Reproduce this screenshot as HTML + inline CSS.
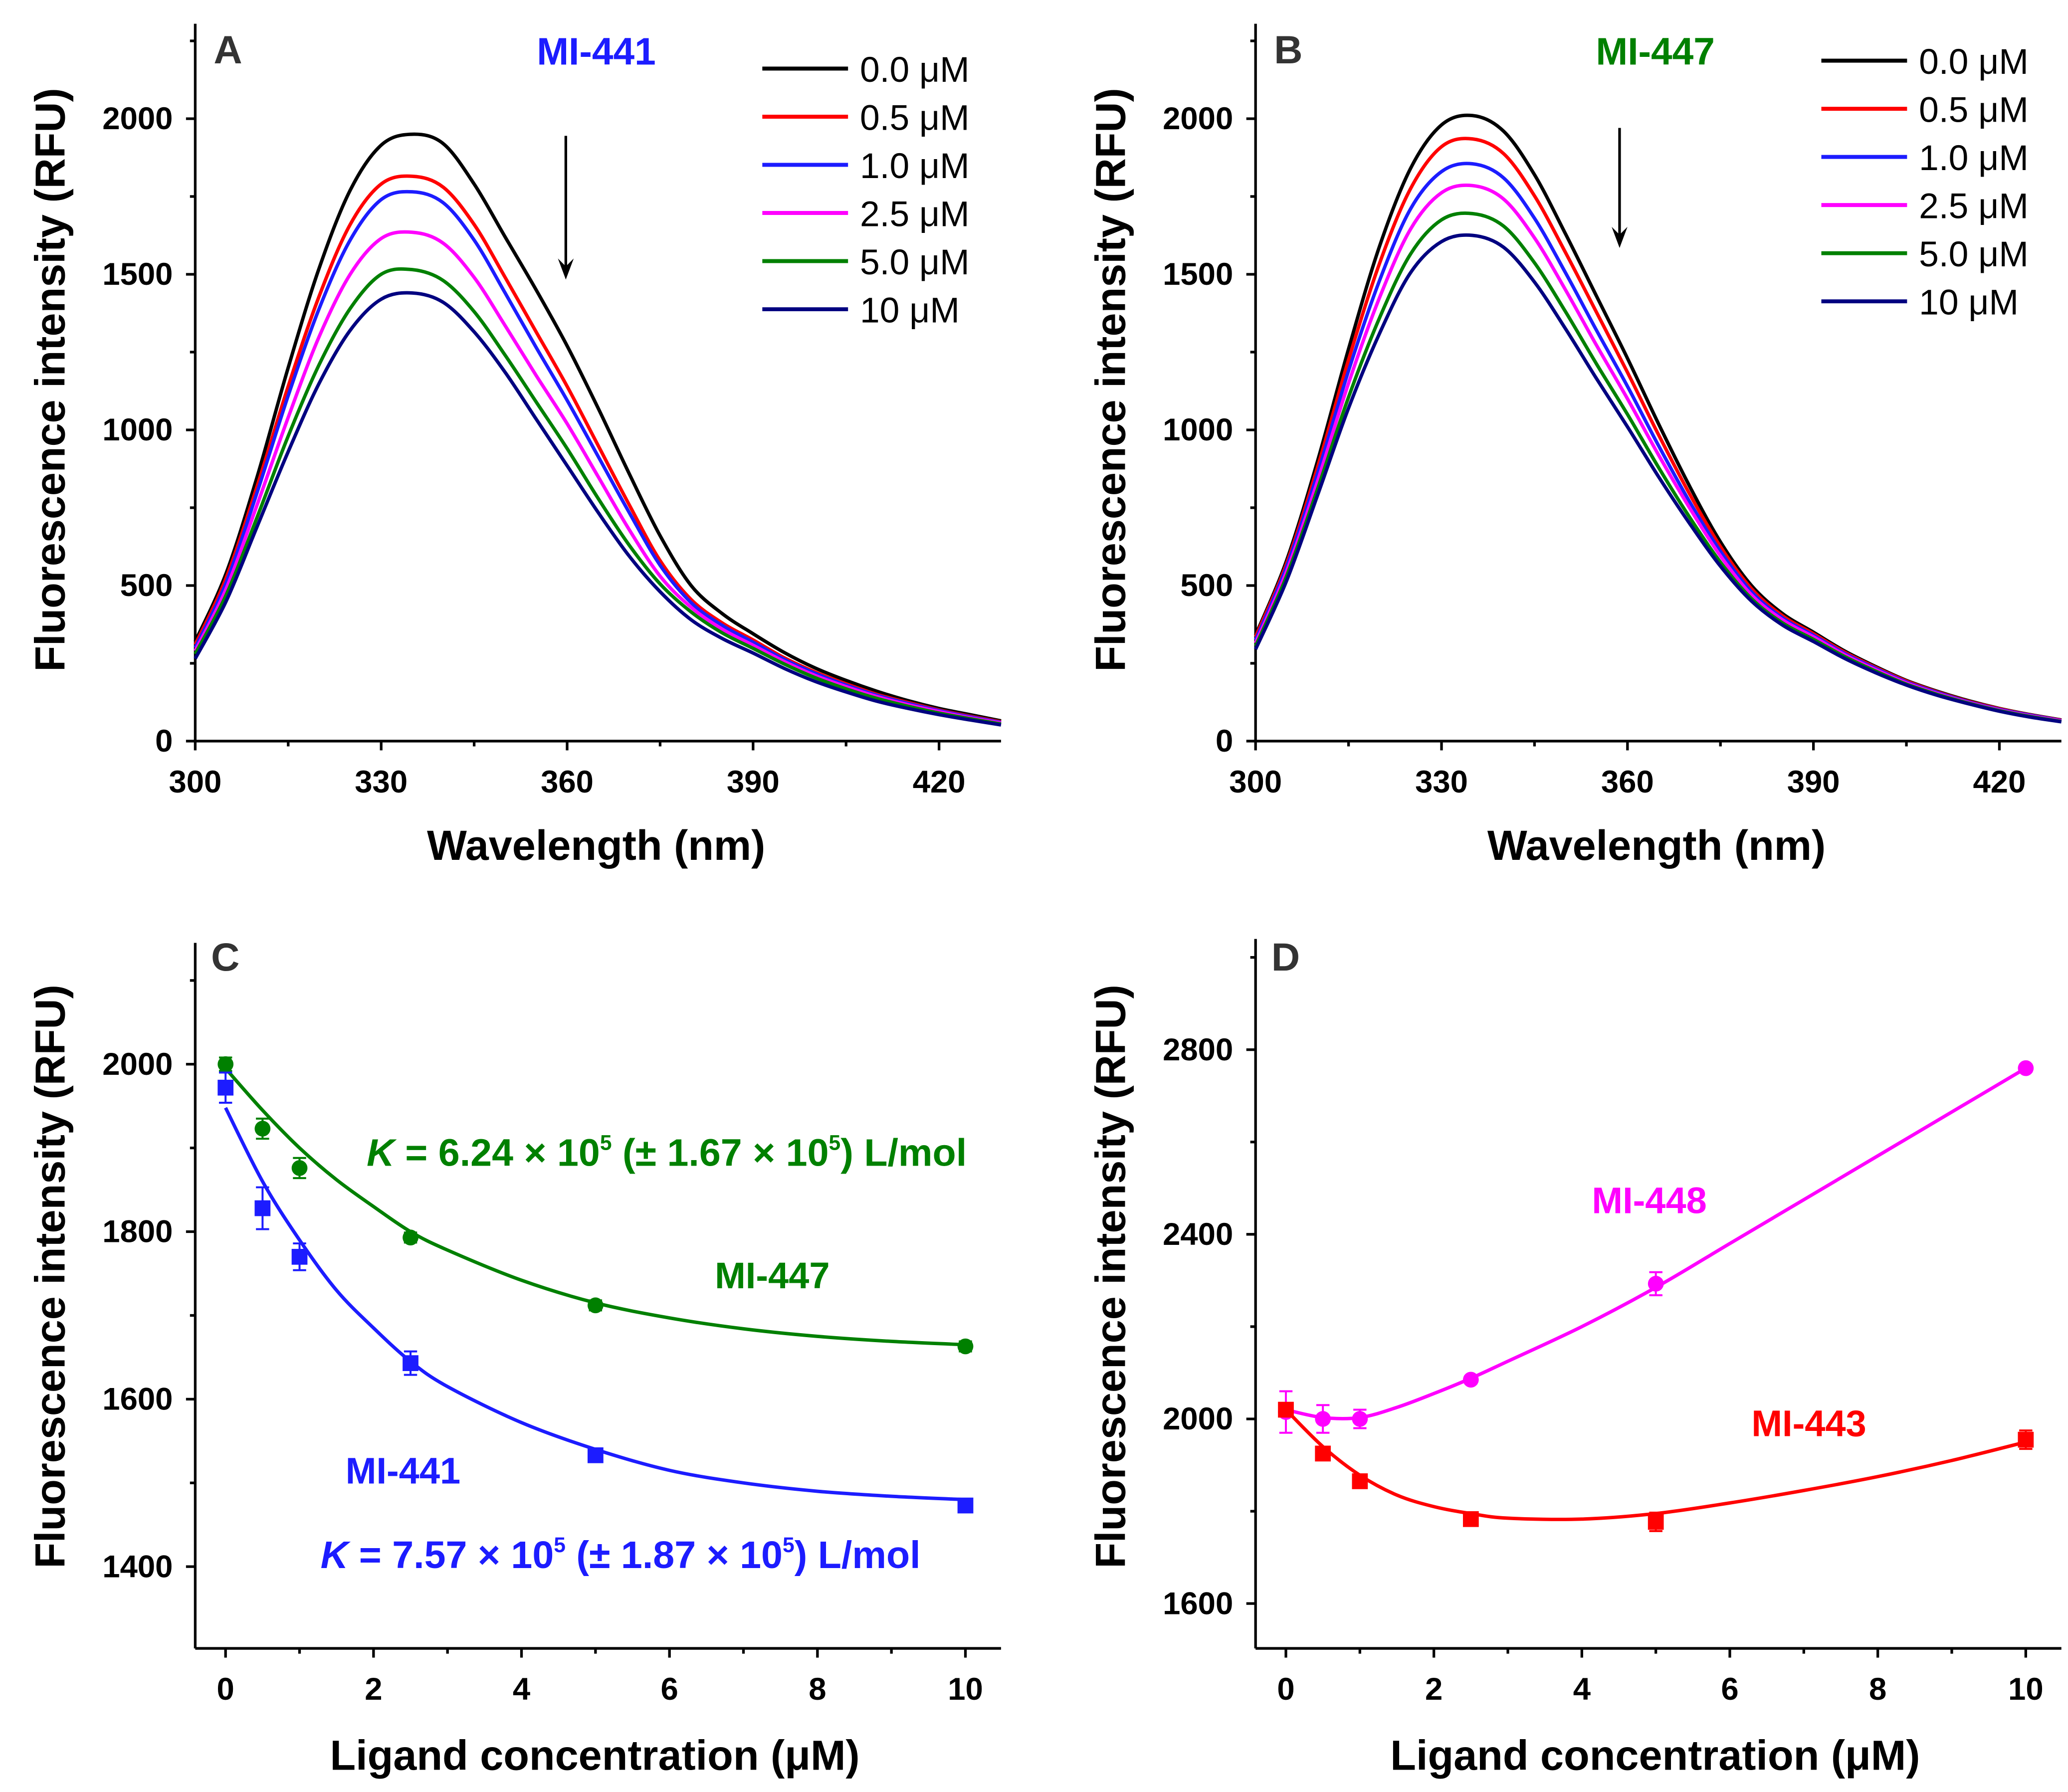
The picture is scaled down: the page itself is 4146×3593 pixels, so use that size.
<!DOCTYPE html>
<html><head><meta charset="utf-8"><style>
html,body{margin:0;padding:0;background:#fff;}
svg{display:block;}
text{font-family:"Liberation Sans",Arial,sans-serif;}
</style></head><body>
<svg id="fig" width="4146" height="3593" viewBox="0 0 1568 1358.9" xmlns="http://www.w3.org/2000/svg"></svg>
<script>
// ---------- DATA ----------
const wavelengths = [300,305,310,315,320,325,330,335,340,345,350,355,360,365,370,375,380,385,390,395,400,405,410,415,420,425,430];
const concLabels = ["0.0 μM","0.5 μM","1.0 μM","2.5 μM","5.0 μM","10 μM"];
const A_c0  = [320,540,850,1200,1520,1770,1915,1950,1920,1790,1620,1450,1270,1070,860,660,500,410,345,285,235,195,160,130,105,85,65];
const A_c05 = [310,525,820,1140,1430,1660,1790,1815,1780,1660,1490,1315,1140,950,760,580,455,380,325,268,222,184,150,124,100,80,62];
const A_c1  = [300,510,800,1110,1390,1610,1740,1765,1730,1610,1440,1265,1095,915,735,565,445,372,318,263,218,180,147,121,98,78,60];
const A_c25 = [290,490,760,1040,1300,1500,1615,1635,1600,1490,1335,1175,1020,850,680,530,430,360,308,256,211,175,143,117,95,75,58];
const A_c5  = [280,470,720,980,1210,1390,1500,1515,1480,1380,1240,1090,940,780,630,505,415,348,298,248,204,168,137,112,90,72,55];
const A_c10 = [265,450,690,930,1150,1320,1420,1440,1410,1315,1185,1035,885,735,595,480,390,330,283,234,192,158,128,105,85,68,52];
const B_c0  = [340,580,900,1260,1590,1840,1980,2010,1960,1820,1630,1430,1230,1020,820,640,500,410,350,290,240,195,160,130,105,85,68];
const B_c05 = [335,570,880,1225,1535,1775,1910,1935,1888,1752,1570,1378,1185,985,795,625,490,403,345,286,237,193,158,128,104,84,67];
const B_c1  = [325,560,860,1190,1480,1710,1830,1855,1810,1680,1505,1320,1140,950,770,610,480,396,340,282,234,190,156,126,102,83,66];
const B_c25 = [315,545,835,1150,1425,1645,1762,1785,1742,1617,1450,1272,1100,920,750,595,470,390,335,278,230,187,153,124,100,81,65];
const B_c5  = [305,530,810,1105,1360,1565,1675,1695,1655,1537,1380,1212,1050,880,720,575,458,380,327,272,225,183,150,122,98,79,63];
const B_c10 = [295,515,790,1070,1310,1505,1605,1625,1587,1475,1325,1165,1010,850,700,562,450,373,320,266,220,180,147,120,96,77,62];

const ligandConc = [0,0.5,1,2.5,5,10];
const C_mi447 = [2000,1923,1876,1793,1712,1663];
const C_mi447_err = [8,12,12,6,6,6];
const C_mi441 = [1972,1828,1770,1643,1533,1473];
const C_mi441_err = [18,25,16,14,5,5];
const fitX = [0,0.5,1,1.5,2,2.5,3,4,5,6,7,8,9,10];
const C_fit447 = [1995,1945,1900,1862,1830,1800,1778,1742,1715,1697,1684,1675,1669,1665];
const C_fit441 = [1948,1860,1790,1730,1685,1645,1615,1572,1540,1515,1500,1490,1484,1480];
const D_mi448 = [2015,2000,2000,2085,2293,2760];
const D_mi448_err = [45,30,20,8,25,8];
const D_mi443 = [2020,1925,1865,1783,1777,1955];
const D_mi443_err = [10,8,8,10,20,20];
const D_fit448 = [2020,2003,2003,2025,2055,2088,2125,2200,2285,2380,2475,2570,2665,2760];
const D_fit443 = [2020,1940,1878,1835,1810,1795,1785,1783,1795,1818,1845,1875,1910,1950];

const specTicks = [300,330,360,390,420];
const specYTicks = [0,500,1000,1500,2000];
const concTicks = [0,2,4,6,8,10];
const C_yTicks = [1400,1600,1800,2000];
const D_yTicks = [1600,2000,2400,2800];

// ---------- HELPERS ----------
const NS="http://www.w3.org/2000/svg";
const svg=document.getElementById('fig');
function el(tag,attrs,parent){const e=document.createElementNS(NS,tag);for(const k in attrs)e.setAttribute(k,attrs[k]);(parent||svg).appendChild(e);return e;}
function scale(d0,d1,r0,r1){return v=>r0+(v-d0)*(r1-r0)/(d1-d0);}
function smoothPath(pts){
  let d=`M${pts[0][0]},${pts[0][1]}`;
  for(let i=0;i<pts.length-1;i++){
    const p0=pts[i-1]||pts[i],p1=pts[i],p2=pts[i+1],p3=pts[i+2]||p2;
    const c1=[p1[0]+(p2[0]-p0[0])/6,p1[1]+(p2[1]-p0[1])/6];
    const c2=[p2[0]-(p3[0]-p1[0])/6,p2[1]-(p3[1]-p1[1])/6];
    d+=` C${c1[0]},${c1[1]} ${c2[0]},${c2[1]} ${p2[0]},${p2[1]}`;
  }
  return d;
}
function label(g,x,y,txt,opts,name){const t=el('text',Object.assign({x:x,y:y},opts),g);t.textContent=txt;
  return t;}
function axes(g,o){
  const xl=el('line',{x1:o.x0,y1:o.y0,x2:o.x1,y2:o.y0,stroke:'#000','stroke-width':2},g);
  
  const yl=el('line',{x1:o.x0,y1:o.y0,x2:o.x0,y2:o.yTop,stroke:'#000','stroke-width':2},g);
  
  o.xt.forEach(v=>{const x=o.sx(v);el('line',{x1:x,y1:o.y0,x2:x,y2:o.y0+7,stroke:'#000','stroke-width':2},g);
    label(g,x,o.y0+39,v,{'font-size':24,'font-weight':'bold','text-anchor':'middle'},'x-tick-label');});
  o.xminor.forEach(v=>{const x=o.sx(v);el('line',{x1:x,y1:o.y0,x2:x,y2:o.y0+4,stroke:'#000','stroke-width':2},g);});
  o.yt.forEach(v=>{const y=o.sy(v);el('line',{x1:o.x0,y1:y,x2:o.x0-7,y2:y,stroke:'#000','stroke-width':2},g);
    label(g,o.x0-17,y+8,v,{'font-size':24,'font-weight':'bold','text-anchor':'end'},'y-tick-label');});
  o.yminor.forEach(v=>{const y=o.sy(v);el('line',{x1:o.x0,y1:y,x2:o.x0-4,y2:y,stroke:'#000','stroke-width':2},g);});
}

const specColors=['#000000','#ff0000','#1c1cff','#ff00ff','#008000','#000080'];

// ---------- SPECTRA PANELS ----------
function spectra(name,x0,series,letter,cmpd,cmpdColor,cmpdX,legX,legY0,arrowX,arrowY0,arrowY1){
  const g=el('g',{});
  
  
  const sx=scale(300,420,x0,x0+564), sy=scale(0,2000,562,90);
  axes(g,{x0:x0,x1:x0+611,y0:562,yTop:18,sx,sy,xt:specTicks,yt:specYTicks,
    xminor:[315,345,375,405],yminor:[250,750,1250,1750,2250]});
  series.forEach((s,i)=>{
    const p=el('path',{d:smoothPath(wavelengths.map((w,j)=>[sx(w),sy(s[j])])),fill:'none',stroke:specColors[i],'stroke-width':2.6},g);
    
    
    const y=legY0+i*36.5;
    el('line',{x1:legX,y1:y,x2:legX+65,y2:y,stroke:specColors[i],'stroke-width':3},g);
    label(g,legX+74,y+10,concLabels[i],{'font-size':27},'legend-entry');
  });
  label(g,x0+14,48,letter,{'font-size':30,'font-weight':'bold',fill:'#333'},'panel-letter');
  label(g,cmpdX,49,cmpd,{'font-size':29,'font-weight':'bold',fill:cmpdColor},'compound-label');
  el('line',{x1:arrowX,y1:arrowY0,x2:arrowX,y2:arrowY1-10,stroke:'#000','stroke-width':2},g);
  el('path',{d:`M${arrowX-6},${arrowY1-16} L${arrowX},${arrowY1} L${arrowX+6},${arrowY1-16} L${arrowX},${arrowY1-10} Z`,fill:'#000'},g);
  label(g,x0+304,652,'Wavelength (nm)',{'font-size':32,'font-weight':'bold','text-anchor':'middle'},'x-axis-title');
  label(g,0,0,'Fluorescence intensity (RFU)',{'font-size':32,'font-weight':'bold','text-anchor':'middle',transform:`translate(${x0-99},288) rotate(-90)`},'y-axis-title');
}
spectra('panel-a',148,[A_c0,A_c05,A_c1,A_c25,A_c5,A_c10],'A','MI-441','#1c1cff',407,578,52,429,103,212);
spectra('panel-b',952,[B_c0,B_c05,B_c1,B_c25,B_c5,B_c10],'B','MI-447','#008000',1210,1381,46,1228,97,188);

// ---------- BINDING PANELS ----------
function binding(name,x0,yA,yApx,yB,yBpx,ytArr,yminor,yTop,sets,letter){
  const g=el('g',{});
  
  
  const y0=1250;
  const sx=scale(0,10,x0+23,x0+584), sy=scale(yA,yB,yApx,yBpx);
  axes(g,{x0:x0,x1:x0+611,y0:y0,yTop:yTop,sx,sy,xt:concTicks,yt:ytArr,xminor:[1,3,5,7,9],yminor:yminor});
  sets.forEach(s=>{
    const p=el('path',{d:smoothPath(fitX.map((v,j)=>[sx(v),sy(s.fit[j])])),fill:'none',stroke:s.color,'stroke-width':2.6},g);
    
    
    ligandConc.forEach((c,j)=>{
      const x=sx(c),y=sy(s.vals[j]),e1=sy(s.vals[j]+s.err[j]),e2=sy(s.vals[j]-s.err[j]);
      el('line',{x1:x,y1:e1,x2:x,y2:e2,stroke:s.color,'stroke-width':1.5},g);
      el('line',{x1:x-5,y1:e1,x2:x+5,y2:e1,stroke:s.color,'stroke-width':1.5},g);
      el('line',{x1:x-5,y1:e2,x2:x+5,y2:e2,stroke:s.color,'stroke-width':1.5},g);
      let m;
      if(s.shape==='circle') m=el('circle',{cx:x,cy:y,r:6,fill:s.color},g);
      else m=el('rect',{x:x-6,y:y-6,width:12,height:12,fill:s.color},g);
      
      
    });
  });
  label(g,x0+12,736,letter,{'font-size':30,'font-weight':'bold',fill:'#333'},'panel-letter');
  label(g,x0+303,1342,'Ligand concentration (μM)',{'font-size':32,'font-weight':'bold','text-anchor':'middle'},'x-axis-title');
  label(g,0,0,'Fluorescence intensity (RFU)',{'font-size':32,'font-weight':'bold','text-anchor':'middle',transform:`translate(${x0-99},968) rotate(-90)`},'y-axis-title');
  return g;
}
const gC=binding('panel-c',148,1400,1188,2000,807,C_yTicks,[1500,1700,1900,2100],715,[
  {name:'mi-447',vals:C_mi447,err:C_mi447_err,fit:C_fit447,color:'#008000',shape:'circle'},
  {name:'mi-441',vals:C_mi441,err:C_mi441_err,fit:C_fit441,color:'#1c1cff',shape:'square'}],'C');
function kText(g,x,y,color,a,b){
  const t=el('text',{x:x,y:y,'font-size':29,'font-weight':'bold',fill:color,textLength:455,lengthAdjust:'spacingAndGlyphs'},g);
  
  
  const parts=[['K',{'font-style':'italic'}],[' = '+a+' × 10',{}],['5',{'font-size':16,dy:-12}],[' (± '+b+' × 10',{'font-size':29,dy:12}],['5',{'font-size':16,dy:-12}],[') L/mol',{'font-size':29,dy:12}]];
  parts.forEach(p=>{const s=el('tspan',p[1],t);s.textContent=p[0];});
}
kText(gC,278,884,'#008000','6.24','1.67');
kText(gC,243,1189,'#1c1cff','7.57','1.87');
label(gC,542,977,'MI-447',{'font-size':28,'font-weight':'bold',fill:'#008000'},'series-label');
label(gC,262,1125,'MI-441',{'font-size':28,'font-weight':'bold',fill:'#1c1cff'},'series-label');

const gD=binding('panel-d',952,1600,1216,2800,796,D_yTicks,[1800,2200,2600,3000],712,[
  {name:'mi-448',vals:D_mi448,err:D_mi448_err,fit:D_fit448,color:'#ff00ff',shape:'circle'},
  {name:'mi-443',vals:D_mi443,err:D_mi443_err,fit:D_fit443,color:'#ff0000',shape:'square'}],'D');
label(gD,1207,920,'MI-448',{'font-size':28,'font-weight':'bold',fill:'#ff00ff'},'series-label');
label(gD,1328,1089,'MI-443',{'font-size':28,'font-weight':'bold',fill:'#ff0000'},'series-label');
</script>
</body></html>
